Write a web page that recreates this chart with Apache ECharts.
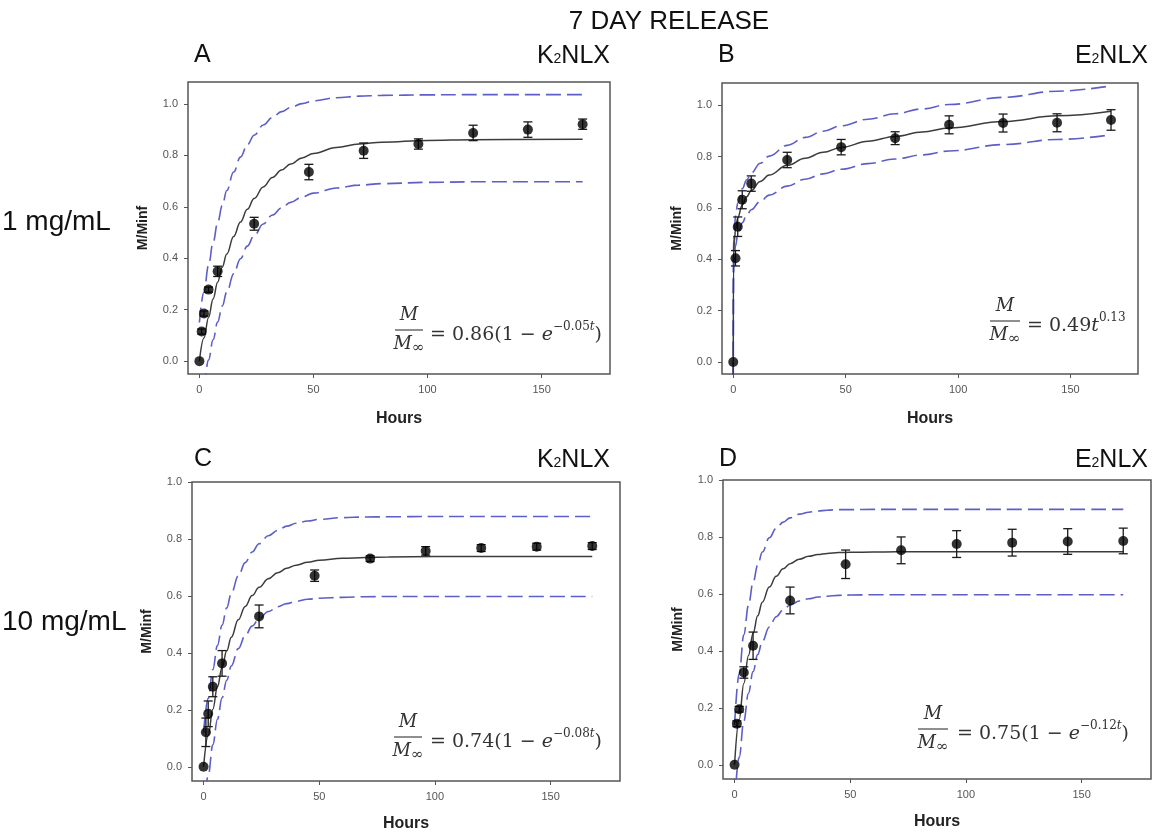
<!DOCTYPE html>
<html>
<head>
<meta charset="utf-8">
<script src="https://cdn.jsdelivr.net/npm/echarts@6/dist/echarts.min.js"></script>
<style>
  html, body { margin: 0; padding: 0; background: #fff; }
  #chart { width: 1152px; height: 833px; }
</style>
</head>
<body>
<div id="chart"></div>
<script>
// Sampling times (hours) shared by all four release studies
const hours = [0, 1, 2, 4, 8, 24, 48, 72, 96, 120, 144, 168];
const xTickValues = [0, 50, 100, 150];
const yTickValues = [0, 0.2, 0.4, 0.6, 0.8, 1.0];

// time grid for the fitted curves and their bands (A, C, D)
const curveT = [0, 2, 4, 6, 8, 10, 12, 15, 18, 21, 24, 28, 32, 36, 40, 45, 50, 60, 70, 80, 100, 120, 168];
// time grid for the power-law panel (B)
const curveTB = [0, 0.1, 0.25, 0.5, 1, 2, 4, 6, 8, 12, 16, 24, 32, 40, 48, 60, 72, 84, 96, 120, 144, 168];

// A: K2NLX, 1 mg/mL
const aMean = [0, 0.115, 0.185, 0.278, 0.349, 0.534, 0.735, 0.818, 0.844, 0.887, 0.900, 0.921];
const aErr  = [0, 0.01, 0.01, 0.01, 0.02, 0.025, 0.03, 0.03, 0.02, 0.03, 0.03, 0.02];
const aFit  = [0, 0.090, 0.170, 0.242, 0.307, 0.365, 0.416, 0.484, 0.541, 0.590, 0.632, 0.677, 0.714, 0.743, 0.766, 0.790, 0.807, 0.830, 0.844, 0.851, 0.858, 0.861, 0.862];
const aUp   = [0.150, 0.269, 0.372, 0.461, 0.538, 0.605, 0.663, 0.735, 0.793, 0.841, 0.878, 0.918, 0.947, 0.970, 0.986, 1.001, 1.012, 1.024, 1.030, 1.033, 1.035, 1.036, 1.036];
const aLo   = [-0.183, -0.083, 0.004, 0.083, 0.152, 0.214, 0.268, 0.339, 0.398, 0.447, 0.488, 0.533, 0.568, 0.596, 0.617, 0.638, 0.653, 0.673, 0.684, 0.690, 0.695, 0.697, 0.697];

// B: E2NLX, 1 mg/mL
const bMean = [0, 0.404, 0.527, 0.632, 0.695, 0.787, 0.837, 0.872, 0.924, 0.931, 0.932, 0.943];
const bErr  = [0, 0.03, 0.038, 0.035, 0.03, 0.03, 0.03, 0.025, 0.035, 0.035, 0.035, 0.04];
const bFit  = [-0.06, 0.386, 0.433, 0.472, 0.515, 0.562, 0.612, 0.644, 0.668, 0.703, 0.728, 0.766, 0.794, 0.817, 0.836, 0.860, 0.879, 0.896, 0.912, 0.937, 0.959, 0.977];
const bUp   = [-0.06, 0.430, 0.478, 0.521, 0.568, 0.619, 0.675, 0.710, 0.736, 0.774, 0.802, 0.844, 0.875, 0.899, 0.920, 0.946, 0.967, 0.986, 1.003, 1.031, 1.055, 1.076];
const bLo   = [-0.06, 0.340, 0.377, 0.413, 0.452, 0.495, 0.542, 0.572, 0.593, 0.626, 0.650, 0.685, 0.712, 0.733, 0.751, 0.773, 0.791, 0.807, 0.822, 0.847, 0.867, 0.885];

// C: K2NLX, 10 mg/mL
const cMean = [0, 0.121, 0.186, 0.281, 0.363, 0.528, 0.671, 0.731, 0.758, 0.768, 0.773, 0.775];
const cErr  = [0, 0.05, 0.045, 0.035, 0.045, 0.04, 0.02, 0.01, 0.015, 0.012, 0.012, 0.012];
const cFit  = [0, 0.109, 0.202, 0.281, 0.349, 0.407, 0.455, 0.516, 0.563, 0.601, 0.630, 0.660, 0.681, 0.697, 0.708, 0.718, 0.725, 0.732, 0.735, 0.737, 0.738, 0.738, 0.738];
const cUp   = [0.120, 0.240, 0.341, 0.426, 0.497, 0.558, 0.609, 0.670, 0.717, 0.754, 0.783, 0.811, 0.830, 0.845, 0.855, 0.863, 0.869, 0.875, 0.877, 0.878, 0.879, 0.879, 0.879];
const cLo   = [-0.163, -0.032, 0.077, 0.167, 0.242, 0.304, 0.354, 0.415, 0.460, 0.494, 0.520, 0.545, 0.562, 0.573, 0.581, 0.588, 0.592, 0.595, 0.597, 0.598, 0.598, 0.598, 0.598];

// D: E2NLX, 10 mg/mL
const dMean = [0, 0.144, 0.195, 0.324, 0.418, 0.577, 0.704, 0.753, 0.775, 0.780, 0.784, 0.786];
const dErr  = [0, 0.01, 0.01, 0.02, 0.048, 0.047, 0.05, 0.047, 0.047, 0.047, 0.045, 0.045];
const dFit  = [0, 0.159, 0.285, 0.384, 0.462, 0.523, 0.571, 0.624, 0.662, 0.688, 0.706, 0.722, 0.732, 0.738, 0.742, 0.745, 0.746, 0.747, 0.748, 0.748, 0.748, 0.748, 0.748];
const dUp   = [0.140, 0.319, 0.456, 0.560, 0.640, 0.701, 0.747, 0.797, 0.830, 0.852, 0.867, 0.880, 0.887, 0.891, 0.894, 0.896, 0.896, 0.897, 0.897, 0.897, 0.897, 0.897, 0.897];
const dLo   = [-0.136, 0.026, 0.153, 0.251, 0.327, 0.387, 0.433, 0.484, 0.520, 0.544, 0.561, 0.575, 0.583, 0.589, 0.592, 0.595, 0.596, 0.597, 0.597, 0.597, 0.597, 0.597, 0.597];

const pair = (ts, vs) => ts.map((t, i) => [t, vs[i]]);

const SANS = "'Liberation Sans', Arial, sans-serif";
const SERIF = "'DejaVu Serif', serif";
const BAND = '#5b5fc6';

const panels = [
  { grid: { left: 188, top: 82, width: 422, height: 292 }, yMin: -0.05, yMax: 1.085, hoursGap: 37,
    mean: aMean, err: aErr, fit: pair(curveT, aFit), up: pair(curveT, aUp), lo: pair(curveT, aLo) },
  { grid: { left: 722, top: 83, width: 416, height: 291 }, yMin: -0.047, yMax: 1.087, hoursGap: 37,
    mean: bMean, err: bErr, fit: pair(curveTB, bFit), up: pair(curveTB, bUp), lo: pair(curveTB, bLo) },
  { grid: { left: 192, top: 482, width: 428, height: 299 }, yMin: -0.05, yMax: 1.0, hoursGap: 35,
    mean: cMean, err: cErr, fit: pair(curveT, cFit), up: pair(curveT, cUp), lo: pair(curveT, cLo) },
  { grid: { left: 723, top: 480, width: 428, height: 299 }, yMin: -0.05, yMax: 1.0, hoursGap: 35,
    mean: dMean, err: dErr, fit: pair(curveT, dFit), up: pair(curveT, dUp), lo: pair(curveT, dLo) }
];

const grids = [], xAxes = [], yAxes = [], series = [];

panels.forEach((p, i) => {
  grids.push(Object.assign({ show: true, borderColor: '#555', borderWidth: 1.5, backgroundColor: '#fff' }, p.grid));
  xAxes.push({
    type: 'value', gridIndex: i, min: -5, max: 180,
    name: 'Hours', nameLocation: 'middle', nameGap: p.hoursGap,
    nameTextStyle: { fontFamily: SANS, fontWeight: 'bold', fontSize: 16, color: '#222' },
    axisLine: { show: false, onZero: false }, splitLine: { show: false },
    axisTick: { show: true, inside: false, length: 4, customValues: xTickValues, lineStyle: { color: '#555', width: 1 } },
    axisLabel: { customValues: xTickValues, margin: 10, fontFamily: SANS, fontSize: 11, color: '#555' }
  });
  yAxes.push({
    type: 'value', gridIndex: i, min: p.yMin, max: p.yMax,
    name: 'M/Minf', nameLocation: 'middle', nameGap: 38,
    nameTextStyle: { fontFamily: SANS, fontWeight: 'bold', fontSize: 14, color: '#222' },
    axisLine: { show: false, onZero: false }, splitLine: { show: false },
    axisTick: { show: true, inside: false, length: 4, customValues: yTickValues, lineStyle: { color: '#555', width: 1 } },
    axisLabel: { customValues: yTickValues, margin: 10, fontFamily: SANS, fontSize: 11, color: '#555',
                 formatter: v => v.toFixed(1) }
  });

  const bandStyle = { color: BAND, width: 1.6, type: [15, 6] };
  const common = { xAxisIndex: i, yAxisIndex: i, symbol: 'none', smooth: 0.4, smoothMonotone: 'x', silent: true, clip: true };
  series.push(Object.assign({ type: 'line', data: p.up, lineStyle: bandStyle, z: 2 }, common));
  series.push(Object.assign({ type: 'line', data: p.lo, lineStyle: bandStyle, z: 2 }, common));
  series.push(Object.assign({ type: 'line', data: p.fit, lineStyle: { color: '#3c3c3c', width: 1.5 }, z: 3 }, common));

  // error bars (mean ± SD) with caps
  series.push({
    type: 'custom', xAxisIndex: i, yAxisIndex: i, z: 4, silent: true,
    data: hours.map((t, k) => [t, p.mean[k] - p.err[k], p.mean[k] + p.err[k]]).filter((d, k) => p.err[k] > 0),
    encode: { x: 0, y: [1, 2] },
    renderItem: (params, api) => {
      const lo = api.coord([api.value(0), api.value(1)]);
      const hi = api.coord([api.value(0), api.value(2)]);
      const w = 4.5;
      const st = { stroke: '#1a1a1a', lineWidth: 1.3 };
      return {
        type: 'group',
        children: [
          { type: 'line', shape: { x1: lo[0], y1: lo[1], x2: hi[0], y2: hi[1] }, style: st },
          { type: 'line', shape: { x1: lo[0] - w, y1: lo[1], x2: lo[0] + w, y2: lo[1] }, style: st },
          { type: 'line', shape: { x1: hi[0] - w, y1: hi[1], x2: hi[0] + w, y2: hi[1] }, style: st }
        ]
      };
    }
  });

  series.push({ type: 'scatter', xAxisIndex: i, yAxisIndex: i, z: 5, silent: true,
                data: hours.map((t, k) => [t, p.mean[k]]), symbol: 'circle', symbolSize: 10,
                itemStyle: { color: '#000' } });
});

// heading, panel letters and row labels
function label(text, x, y, align, size, rich) {
  return {
    type: 'text', x: x, y: y, z: 10, silent: true,
    style: {
      text: text, fontFamily: SANS, fontSize: size, fill: '#111',
      align: align, textAlign: align, verticalAlign: 'middle', textVerticalAlign: 'middle',
      rich: rich
    }
  };
}
const subRich = {
  n: { fontFamily: SANS, fontSize: 25, fill: '#111', lineHeight: 28, verticalAlign: 'bottom' },
  sub: { fontFamily: SANS, fontSize: 14, fill: '#111', lineHeight: 16, verticalAlign: 'bottom', padding: [0, 0, 3, 0] }
};

// equation block: fraction M / M∞ followed by the fitted expression
function equation(cx, lineY, halfW, x0, rest) {
  const eqRich = {
    m: { fontFamily: SERIF, fontSize: 19, fill: '#333', lineHeight: 24, verticalAlign: 'bottom' },
    i: { fontFamily: SERIF, fontStyle: 'italic', fontSize: 19, fill: '#333', lineHeight: 24, verticalAlign: 'bottom' },
    s: { fontFamily: SERIF, fontSize: 12, fill: '#333', lineHeight: 14, verticalAlign: 'top', padding: [0, 0, 16, 0] },
    si: { fontFamily: SERIF, fontStyle: 'italic', fontSize: 12, fill: '#333', lineHeight: 14, verticalAlign: 'top', padding: [0, 0, 16, 0] }
  };
  const denRich = {
    i: { fontFamily: SERIF, fontStyle: 'italic', fontSize: 18, fill: '#333', lineHeight: 20, verticalAlign: 'top' },
    inf: { fontFamily: SERIF, fontSize: 15, fill: '#333', lineHeight: 16, verticalAlign: 'top', padding: [6, 0, 0, 0] }
  };
  return [
    { type: 'text', x: cx, y: lineY - 15, z: 10, silent: true,
      style: { text: 'M', fontFamily: SERIF, fontStyle: 'italic', fontSize: 18, fill: '#333',
               align: 'center', textAlign: 'center', verticalAlign: 'middle', textVerticalAlign: 'middle' } },
    { type: 'line', z: 10, silent: true, shape: { x1: cx - halfW, y1: lineY, x2: cx + halfW, y2: lineY },
      style: { stroke: '#333', lineWidth: 1.1 } },
    { type: 'text', x: cx, y: lineY + 15, z: 10, silent: true,
      style: { text: '{i|M}{inf|∞}', rich: denRich,
               align: 'center', textAlign: 'center', verticalAlign: 'middle', textVerticalAlign: 'middle' } },
    { type: 'text', x: x0, y: lineY + 3, z: 10, silent: true,
      style: { text: rest, rich: eqRich,
               align: 'left', textAlign: 'left', verticalAlign: 'middle', textVerticalAlign: 'middle' } }
  ];
}

const graphics = [
  label('7 DAY RELEASE', 669, 22, 'center', 26),
  label('A', 194, 55, 'left', 25),
  label('{n|K}{sub|2}{n|NLX}', 610, 55, 'right', 25, subRich),
  label('B', 718, 55, 'left', 25),
  label('{n|E}{sub|2}{n|NLX}', 1148, 55, 'right', 25, subRich),
  label('C', 194, 459, 'left', 25),
  label('{n|K}{sub|2}{n|NLX}', 610, 459, 'right', 25, subRich),
  label('D', 719, 459, 'left', 25),
  label('{n|E}{sub|2}{n|NLX}', 1148, 459, 'right', 25, subRich),
  label('1 mg/mL', 2, 222, 'left', 28),
  label('10 mg/mL', 2, 622, 'left', 28)
].concat(
  equation(409, 330, 14, 430, '{m|= 0.86(1 − }{i|e}{s|−0.05}{si|t}{m|)}'),
  equation(1005, 321, 15, 1027, '{m|= 0.49}{i|t}{s|0.13}'),
  equation(408, 737, 14, 430, '{m|= 0.74(1 − }{i|e}{s|−0.08}{si|t}{m|)}'),
  equation(933, 729, 15, 957, '{m|= 0.75(1 − }{i|e}{s|−0.12}{si|t}{m|)}')
);

const chart = echarts.init(document.getElementById('chart'), null, { renderer: 'canvas' });
chart.setOption({
  animation: false,
  backgroundColor: '#fff',
  grid: grids,
  xAxis: xAxes,
  yAxis: yAxes,
  series: series,
  graphic: graphics
});
</script>
</body>
</html>
